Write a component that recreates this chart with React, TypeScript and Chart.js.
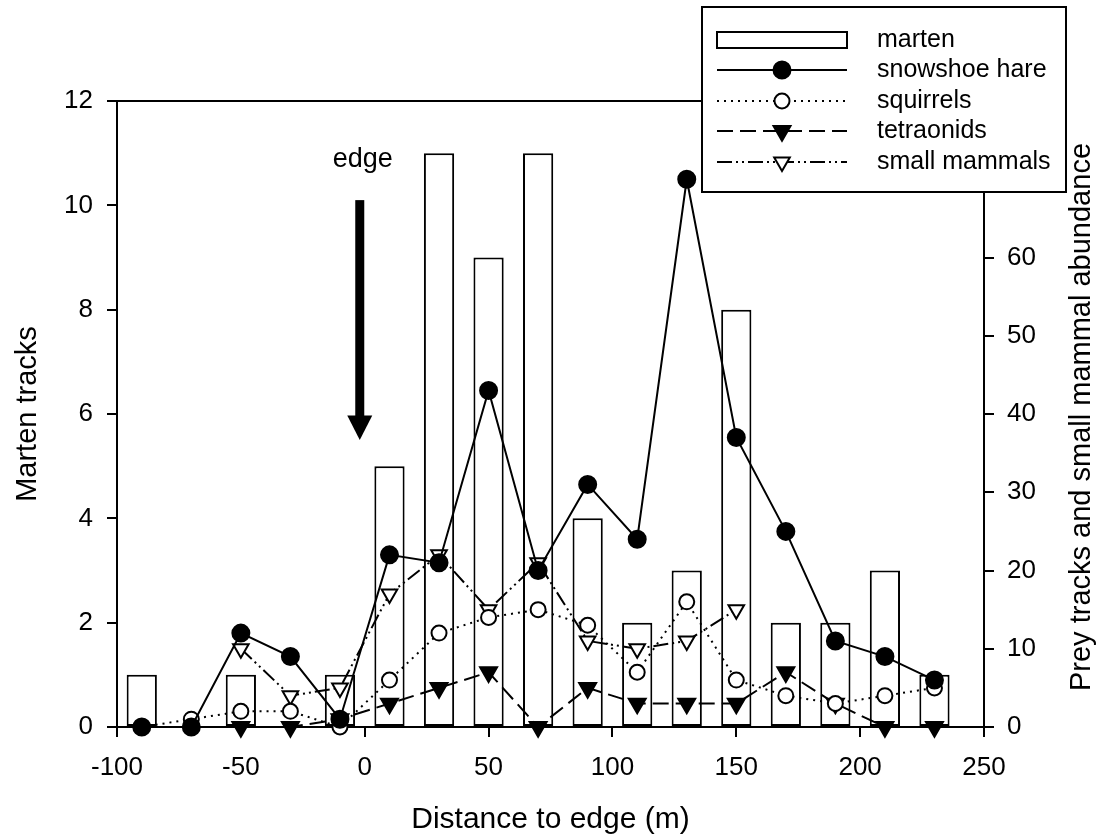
import React, { useEffect, useRef } from 'react';
import { Chart, registerables } from 'chart.js';

Chart.register(...registerables);

// Distance classes (m) relative to the forest edge
const distances = [-90, -70, -50, -30, -10, 10, 30, 50, 70, 90, 110, 130, 150, 170, 190, 210, 230];
// Marten tracks per distance class (left axis)
const martenTracks = [1, 0, 1, 0, 1, 5, 11, 9, 11, 4, 2, 3, 8, 2, 2, 3, 1];
// Prey tracks and small mammal abundance (right axis)
const snowshoeHare = [0, 0, 12, 9, 1, 22, 21, 43, 20, 31, 24, 70, 37, 25, 11, 9, 6];
const squirrels = [0, 1, 2, 2, 0, 6, 12, 14, 15, 13, 7, 16, 6, 4, 3, 4, 5];
const tetraonids = [null, null, 0, 0, 1, 3, 5, 7, 0, 5, 3, 3, 3, 7, 3, 0, 0];
const smallMammals = [null, null, 10, 4, 5, 17, 22, 15, 21, 11, 10, 11, 15, null, null, null, null];

// Axis ranges and tick steps
const xTicks = { min: -100, max: 250, step: 50 };
const leftTicks = { min: 0, max: 12, step: 2 };
const rightTicks = { min: 0, max: 80, step: 10 };

// Edge marker: arrow at the edge position, in data units of the x and left axes
const edgeArrow = { x: -2, top: 10.1, headStart: 5.97, tip: 5.5, label: 'edge' };

const FONT = '"Liberation Sans", Arial, Helvetica, sans-serif';
const TICK_SIZE = 26;
const Y_TITLE_SIZE = 29;
const X_TITLE_SIZE = 30;
const LEGEND_SIZE = 25;

const toPoints = (vals: (number | null)[]) =>
  distances
    .map((d, i) => ({ x: d, y: vals[i] }))
    .filter((p) => p.y !== null) as { x: number; y: number }[];

type Series = {
  label: string;
  kind: 'bar' | 'line';
  dash: number[];
  marker: 'circle' | 'tri';
  filled: boolean;
  r: number;
};

const legendItems: Series[] = [
  { label: 'marten', kind: 'bar', dash: [], marker: 'circle', filled: false, r: 0 },
  { label: 'snowshoe hare', kind: 'line', dash: [], marker: 'circle', filled: true, r: 8.5 },
  { label: 'squirrels', kind: 'line', dash: [2, 5], marker: 'circle', filled: false, r: 7.5 },
  { label: 'tetraonids', kind: 'line', dash: [16, 7], marker: 'tri', filled: true, r: 9.8 },
  { label: 'small mammals', kind: 'line', dash: [15, 4, 2, 4, 2, 4], marker: 'tri', filled: false, r: 9 },
];

function drawMarker(ctx: CanvasRenderingContext2D, s: Series, x: number, y: number) {
  ctx.save();
  ctx.setLineDash([]);
  ctx.lineWidth = 2;
  ctx.strokeStyle = '#000';
  ctx.fillStyle = s.filled ? '#000' : '#fff';
  ctx.beginPath();
  if (s.marker === 'circle') {
    ctx.arc(x, y, s.r, 0, Math.PI * 2);
  } else {
    // downward pointing triangle
    for (let k = 0; k < 3; k++) {
      const a = Math.PI + (k * 2 * Math.PI) / 3;
      const px = x + Math.sin(a) * s.r;
      const py = y - Math.cos(a) * s.r;
      if (k === 0) ctx.moveTo(px, py);
      else ctx.lineTo(px, py);
    }
    ctx.closePath();
  }
  ctx.fill();
  ctx.stroke();
  ctx.restore();
}

const decorations = {
  id: 'decorations',
  afterDraw(chart: any) {
    const { ctx, chartArea, scales } = chart;
    const { left, right, top, bottom } = chartArea;
    ctx.save();

    // top frame line
    ctx.strokeStyle = '#000';
    ctx.lineWidth = 2;
    ctx.setLineDash([]);
    ctx.beginPath();
    ctx.moveTo(left - 10, top);
    ctx.lineTo(right, top);
    ctx.stroke();

    // edge arrow
    const ax = scales.x.getPixelForValue(edgeArrow.x);
    const aTop = scales.y.getPixelForValue(edgeArrow.top);
    const aHead = scales.y.getPixelForValue(edgeArrow.headStart);
    const aTip = scales.y.getPixelForValue(edgeArrow.tip);
    ctx.fillStyle = '#000';
    ctx.fillRect(ax - 4.5, aTop, 9, aHead - aTop + 1);
    ctx.beginPath();
    ctx.moveTo(ax - 12.5, aHead);
    ctx.lineTo(ax + 12.5, aHead);
    ctx.lineTo(ax, aTip);
    ctx.closePath();
    ctx.fill();
    ctx.font = `27px ${FONT}`;
    ctx.textAlign = 'center';
    ctx.textBaseline = 'alphabetic';
    ctx.fillText(edgeArrow.label, ax + 3, aTop - 33);

    // axis titles
    ctx.textBaseline = 'middle';
    ctx.font = `${X_TITLE_SIZE}px ${FONT}`;
    ctx.fillText('Distance to edge (m)', (left + right) / 2, 820);
    ctx.font = `${Y_TITLE_SIZE}px ${FONT}`;
    ctx.save();
    ctx.translate(28, (top + bottom) / 2);
    ctx.rotate(-Math.PI / 2);
    ctx.fillText('Marten tracks', 0, 0);
    ctx.restore();
    ctx.save();
    ctx.translate(1082, (top + bottom) / 2 + 3);
    ctx.rotate(-Math.PI / 2);
    ctx.fillText('Prey tracks and small mammal abundance', 0, 0);
    ctx.restore();

    // legend box
    const bx = 702, by = 7, bw = 364, bh = 185;
    ctx.fillStyle = '#fff';
    ctx.fillRect(bx, by, bw, bh);
    ctx.strokeStyle = '#000';
    ctx.lineWidth = 2;
    ctx.strokeRect(bx, by, bw, bh);
    const rows = [40, 70, 101, 131, 162];
    const sx0 = 717, sx1 = 847, mx = 782, tx = 877;
    legendItems.forEach((s, i) => {
      const y = rows[i];
      ctx.strokeStyle = '#000';
      ctx.lineWidth = 2;
      if (s.kind === 'bar') {
        ctx.setLineDash([]);
        ctx.fillStyle = '#fff';
        ctx.fillRect(sx0, y - 8, sx1 - sx0, 16);
        ctx.strokeRect(sx0, y - 8, sx1 - sx0, 16);
      } else {
        ctx.setLineDash(s.dash);
        ctx.beginPath();
        ctx.moveTo(sx0, y);
        ctx.lineTo(sx1, y);
        ctx.stroke();
        ctx.setLineDash([]);
        drawMarker(ctx, s, mx, y);
      }
      ctx.fillStyle = '#000';
      ctx.font = `${LEGEND_SIZE}px ${FONT}`;
      ctx.textAlign = 'left';
      ctx.textBaseline = 'middle';
      ctx.fillText(s.label, tx, y);
    });
    ctx.restore();
  },
};

const lineDataset = (s: Series, vals: (number | null)[], order: number) => ({
  type: 'line' as const,
  label: s.label,
  data: toPoints(vals),
  yAxisID: 'y1',
  order,
  clip: false as const,
  borderColor: '#000',
  borderWidth: 2,
  borderDash: s.dash,
  tension: 0,
  fill: false,
  pointStyle: s.marker === 'circle' ? 'circle' : 'triangle',
  rotation: s.marker === 'tri' ? 180 : 0,
  pointRadius: s.r,
  pointBorderWidth: 2,
  pointBorderColor: '#000',
  pointBackgroundColor: s.filled ? '#000' : '#fff',
});

export default function App() {
  const ref = useRef<HTMLCanvasElement>(null);

  useEffect(() => {
    const tickFont = { family: FONT, size: TICK_SIZE };
    const gridCommon = {
      drawOnChartArea: false,
      drawTicks: true,
      tickLength: 10,
      color: '#000',
      lineWidth: 2,
    };
    const chart = new Chart(ref.current!, {
      type: 'bar',
      data: {
        datasets: [
          {
            type: 'bar',
            label: 'marten',
            data: toPoints(martenTracks),
            yAxisID: 'y',
            order: 10,
            backgroundColor: '#fff',
            borderColor: '#000',
            borderWidth: 2,
            borderSkipped: false,
            categoryPercentage: 1,
            barPercentage: 0.61,
          } as any,
          lineDataset(legendItems[1], snowshoeHare, 1),
          lineDataset(legendItems[2], squirrels, 2),
          lineDataset(legendItems[3], tetraonids, 3),
          lineDataset(legendItems[4], smallMammals, 4),
        ],
      },
      options: {
        responsive: false,
        animation: false,
        events: [],
        layout: { padding: { top: 101, left: 0, right: 0, bottom: 0 } },
        plugins: { legend: { display: false }, tooltip: { enabled: false } },
        scales: {
          x: {
            type: 'linear',
            position: 'bottom',
            min: xTicks.min,
            max: xTicks.max,
            offset: false,
            ticks: { stepSize: xTicks.step, autoSkip: false, maxRotation: 0, color: '#000', font: tickFont, padding: 15 },
            grid: { ...gridCommon, offset: false },
            border: { display: true, color: '#000', width: 2 },
            afterFit: (s: any) => { s.height = 112; },
          },
          y: {
            type: 'linear',
            position: 'left',
            min: leftTicks.min,
            max: leftTicks.max,
            ticks: { stepSize: leftTicks.step, color: '#000', font: tickFont, padding: 14 },
            grid: gridCommon,
            border: { display: true, color: '#000', width: 2 },
            afterFit: (s: any) => { s.width = 117; },
          },
          y1: {
            type: 'linear',
            position: 'right',
            min: rightTicks.min,
            max: rightTicks.max,
            ticks: { stepSize: rightTicks.step, color: '#000', font: tickFont, padding: 13 },
            grid: gridCommon,
            border: { display: true, color: '#000', width: 2 },
            afterFit: (s: any) => { s.width = 119; },
          },
        },
      } as any,
      plugins: [decorations],
    });
    return () => chart.destroy();
  }, []);

  return (
    <div style={{ position: 'fixed', left: 0, top: 0, width: 1103, height: 839, background: '#fff' }}>
      <canvas ref={ref} width={1103} height={839} style={{ display: 'block' }} />
    </div>
  );
}
